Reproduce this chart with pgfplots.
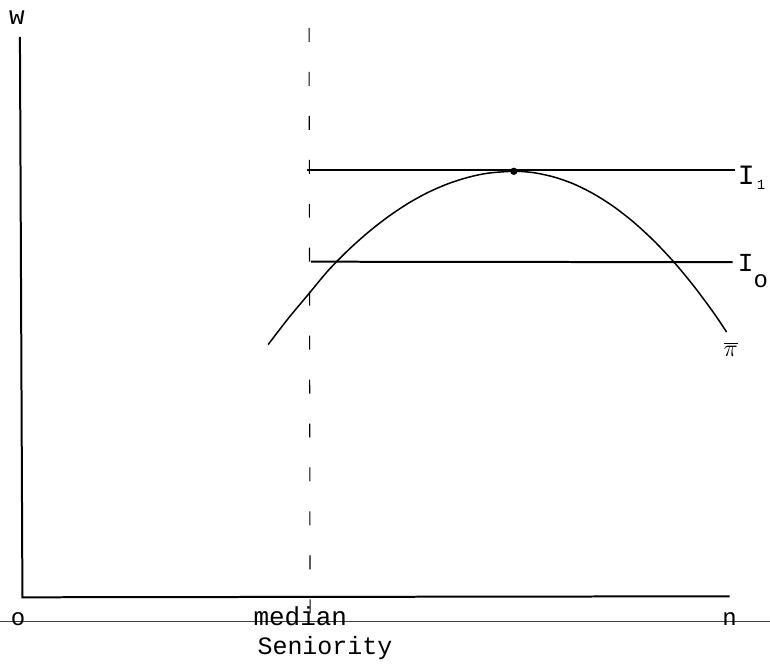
\documentclass[border=0pt]{standalone}
\usepackage{pgfplots}
\pgfplotsset{compat=1.18}
\usepackage{fontspec}
\setmainfont{Liberation Mono}
\begin{document}
\begin{tikzpicture}
\begin{axis}[
  width=385pt, height=334pt, scale only axis,
  xmin=0, xmax=770, ymin=0, ymax=668, y dir=reverse,
  hide axis, clip=false,
]
% invisible frame for bounding box
\addplot[draw=none] coordinates {(0,0) (770,668)};
% axes
\addplot[black, line width=1pt] coordinates {(19.5,37) (22,598) (730,597)};
% thin base line
\addplot[black!75, line width=0.45pt] coordinates {(0,622.5) (770,622.5)};
% median dashed line
\addplot[black, line width=0.55pt, dash pattern=on 7pt off 15pt] coordinates {(309,28) (310,615)};
% indifference lines
\addplot[black, line width=1pt] coordinates {(307,170.7) (735,170.7)};
\addplot[black, line width=1pt] coordinates {(311,262) (733,262.5)};
% profit curve
\addplot[black, line width=0.75pt, smooth] coordinates {
 (268,345) (288,319) (308,295) (328,271) (348,250.6) (368,232.7) (388,217.1)
 (408,203.7) (428,192.7) (448,184) (468,177.6) (488,173.4) (514,171.5)
 (534,172.9) (554,177.2) (574,184.2) (594,194.2) (614,206.9) (634,222.5)
 (654,240.9) (674,262.1) (694,286.2) (714,313.1) (727,332.5)};
% tangency point
\addplot[only marks, mark=*, mark size=1.6pt, black] coordinates {(514,171.5)};
% labels
\node[anchor=base, inner sep=0, font=\fontsize{13}{13}\selectfont] at (axis cs:16.5,25) {w};
\node[anchor=base, inner sep=0, font=\fontsize{12}{12}\selectfont] at (axis cs:17.7,626) {o};
\node[anchor=base, inner sep=0, font=\fontsize{12}{12}\selectfont] at (axis cs:730,626.5) {n};
\node[anchor=base west, inner sep=0, font=\fontsize{13}{12}\selectfont] at (axis cs:253,626) {median};
\node[anchor=base west, inner sep=0, font=\fontsize{12.5}{12}\selectfont] at (axis cs:257,655) {Seniority};
\node[anchor=base west, inner sep=0] at (axis cs:738,185) {\fontsize{14}{14}\selectfont I\hspace{1pt}\raisebox{-2.5pt}{\fontsize{7}{7}\selectfont 1}};
\node[anchor=base west, inner sep=0] at (axis cs:738,272) {\fontsize{13}{13}\selectfont I\raisebox{-8pt}{\fontsize{12}{12}\selectfont o}};
\node[anchor=center, inner sep=0, font=\fontsize{13}{13}\selectfont] at (axis cs:731,350) {$\overline{\pi}$};
\end{axis}
\end{tikzpicture}
\end{document}
